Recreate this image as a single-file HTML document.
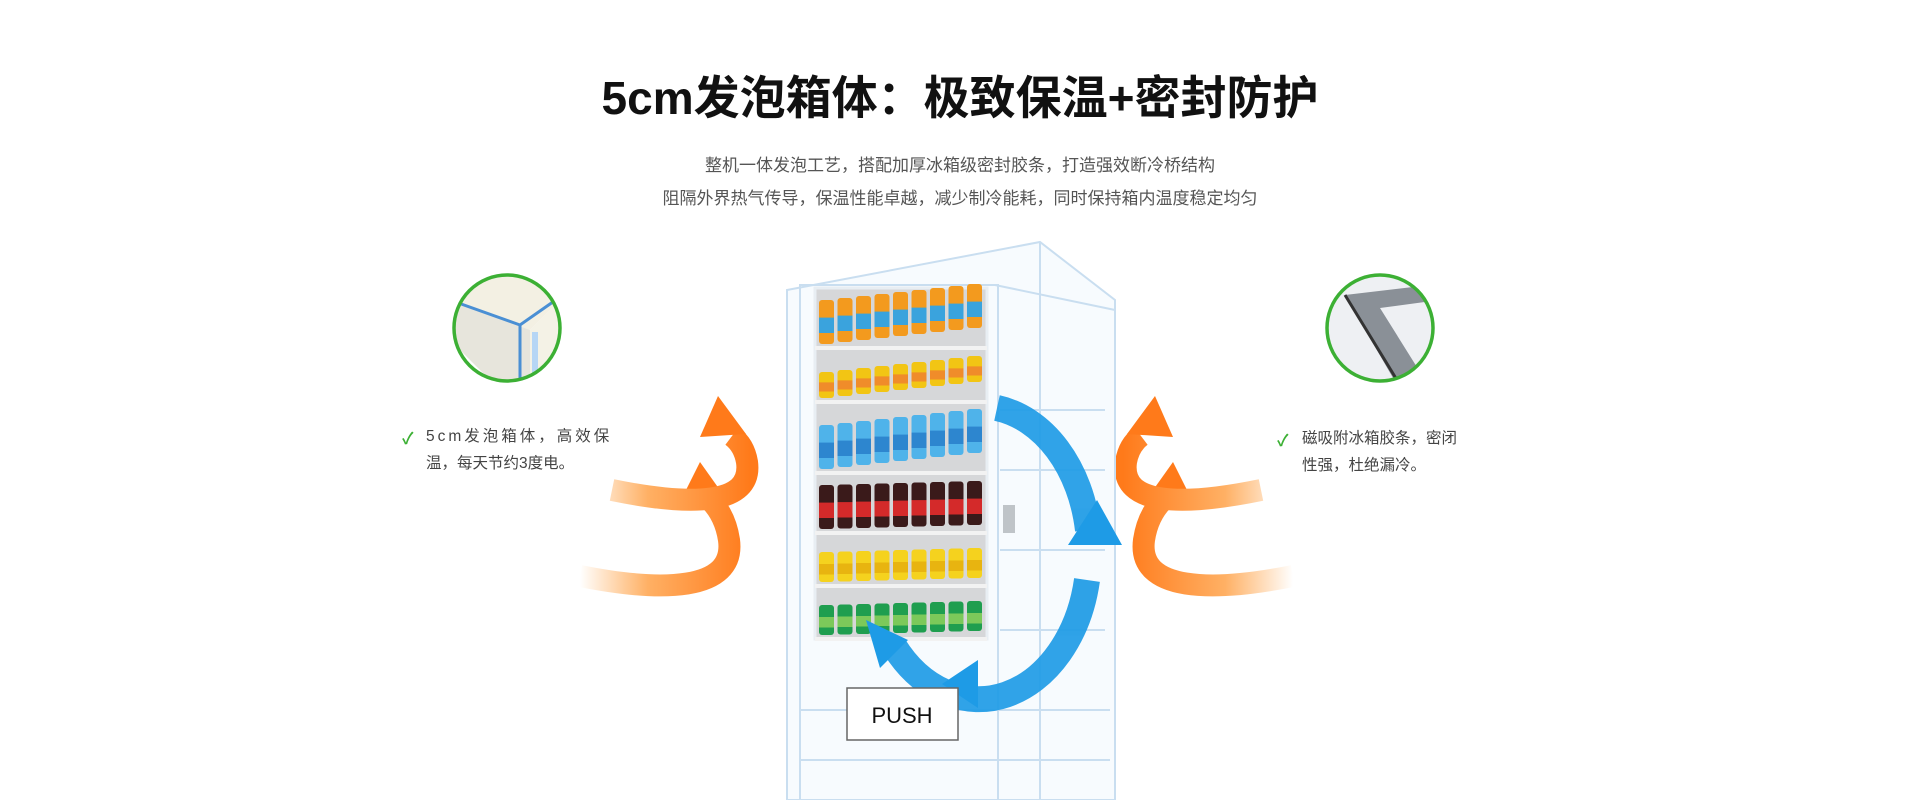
<!DOCTYPE html>
<html><head><meta charset="utf-8"><style>
body{margin:0;width:1920px;height:800px;background:#fff;overflow:hidden;position:relative;font-family:"Liberation Sans","Noto Sans CJK SC",sans-serif}
.t{position:absolute;left:0;width:1920px;text-align:center}
.h{top:62px;font-size:46px;font-weight:bold;color:#111}
.s{font-size:17px;color:#555}
.f{position:absolute;font-size:15.5px;color:#444;line-height:27px}
.ck{position:absolute;color:#3cb034;font-size:16px;font-weight:bold}
</style></head><body>
<div class="t h">5cm发泡箱体：极致保温+密封防护</div>
<div class="t s" style="top:151px">整机一体发泡工艺，搭配加厚冰箱级密封胶条，打造强效断冷桥结构</div>
<div class="t s" style="top:184px">阻隔外界热气传导，保温性能卓越，减少制冷能耗，同时保持箱内温度稳定均匀</div>
<svg width="1920" height="800" style="position:absolute;left:0;top:0">
<defs>
<linearGradient id="og" gradientUnits="userSpaceOnUse" x1="580" x2="750" y1="0" y2="0"><stop offset="0" stop-color="#ffb060" stop-opacity="0"/><stop offset="0.4" stop-color="#ffb064"/><stop offset="1" stop-color="#ff7a1a"/></linearGradient>
<clipPath id="c1"><circle cx="507" cy="328" r="53"/></clipPath>
<clipPath id="c2"><circle cx="1380" cy="328" r="53"/></clipPath>
</defs>
<g clip-path="url(#c1)"><rect x="450" y="270" width="120" height="120" fill="#fff"/>
<polygon points="450,270 570,270 570,290 530,330 450,300" fill="#f3f0e3"/>
<polygon points="450,300 530,330 530,390 500,390 450,340" fill="#e7e5dc"/>
<polygon points="530,330 570,290 570,390 530,390" fill="#f4f2e6"/>
<polyline points="450,300 520,325 570,290" stroke="#4a8fd4" stroke-width="3" fill="none"/>
<line x1="520" y1="325" x2="520" y2="390" stroke="#4a8fd4" stroke-width="3"/>
<line x1="535" y1="332" x2="535" y2="390" stroke="#8cc4ff" stroke-width="6" opacity=".6"/></g>
<circle cx="507" cy="328" r="53" fill="none" stroke="#3cb034" stroke-width="3.5"/>
<g clip-path="url(#c2)"><rect x="1320" y="270" width="120" height="120" fill="#eef0f3"/>
<polygon points="1345,295 1430,285 1440,300 1380,308 1425,380 1400,390" fill="#8a9097"/>
<polyline points="1345,295 1400,385" stroke="#333" stroke-width="3" fill="none"/>
<line x1="1420" y1="288" x2="1440" y2="296" stroke="#222" stroke-width="1.5"/></g>
<circle cx="1380" cy="328" r="53" fill="none" stroke="#3cb034" stroke-width="3.5"/>
<g id="oa">
<path d="M580,576 C660,592 736,592 729,540 C726,520 718,508 710,500" stroke="url(#og)" stroke-width="22" fill="none"/>
<polygon points="700,462 727,500 680,502" fill="#ff7a1a"/>
<path d="M612,490 C690,506 753,506 747,462 C745,450 740,442 732,436" stroke="url(#og)" stroke-width="22" fill="none"/>
<polygon points="718,396 746,434 700,437" fill="#ff7a1a"/>
</g>
<use href="#oa" transform="translate(1873,0) scale(-1,1)"/>
<g stroke="#c9def0" stroke-width="2" fill="none">
<polygon points="787,290 1040,242 1115,300 1115,800 787,800" fill="#f7fbfe"/>
<line x1="1040" y1="242" x2="1040" y2="800"/>
<rect x="800" y="285" width="198" height="515"/>
<line x1="995" y1="285" x2="1115" y2="310"/>
<line x1="1000" y1="410" x2="1105" y2="410"/><line x1="1000" y1="470" x2="1105" y2="470"/>
<line x1="1000" y1="550" x2="1105" y2="550"/><line x1="1000" y1="630" x2="1105" y2="630"/>
<line x1="800" y1="710" x2="1110" y2="710"/><line x1="800" y1="760" x2="1110" y2="760"/>
</g>
<rect x="815" y="288" width="172" height="351" fill="#d6d7d9" stroke="#e8eef3" stroke-width="3"/>
<g id="rows"></g>
<rect x="1003" y="505" width="12" height="28" fill="#bfc4c8"/>
<g fill="none" stroke="#1e9be6" stroke-width="26" opacity=".92">
<path d="M997,408 A110,146 0 0 1 1088,530"/>
<path d="M1087,580 A110,146 0 0 1 894,646"/>
</g>
<g fill="#1e9be6"><polygon points="1097,500 1068,545 1122,545"/><polygon points="942,684 978,660 978,708"/><polygon points="866,620 880,668 908,640"/></g>
<rect x="847" y="688" width="111" height="52" fill="#fff" stroke="#666" stroke-width="1.5"/>
<text x="902" y="723" font-family="Liberation Sans" font-size="22" text-anchor="middle" fill="#111">PUSH</text>
</svg>
<div class="ck" style="left:402px;top:425px">✓</div>
<div class="f" style="left:426px;top:423px"><span style="letter-spacing:3px">5cm发泡箱体，高效保</span><br>温，每天节约3度电。</div>
<div class="ck" style="left:1277px;top:427px">✓</div>
<div class="f" style="left:1302px;top:425px">磁吸附冰箱胶条，密闭<br>性强，杜绝漏冷。</div>
<script>
var g=document.getElementById('rows'),s='';
var rows=[[300,'#f39a1e','#3aa3dd'],[372,'#f2c514','#f08c2a'],[425,'#4fb3ea','#2d86cf'],[485,'#3a1a1a','#d42a2a'],[552,'#f5d21e','#e8b410'],[605,'#1f9e4f','#7cc95a']];
rows.forEach(function(r,i){var y=r[0],h=i==0||i==2||i==3?44:(i==1?26:30);
for(var k=0;k<9;k++){var x=819+k*18.5;
s+='<rect x="'+x+'" y="'+(y-k*(i<3?2:0.5))+'" width="15" height="'+h+'" rx="3" fill="'+r[1]+'"/>';
s+='<rect x="'+x+'" y="'+(y-k*(i<3?2:0.5)+h*0.4)+'" width="15" height="'+h*0.35+'" fill="'+r[2]+'"/>';}
s+='<rect x="815" y="'+(y+h+2)+'" width="172" height="4" fill="#f2f2f2"/>';});
g.innerHTML=s;
</script>
</body></html>
